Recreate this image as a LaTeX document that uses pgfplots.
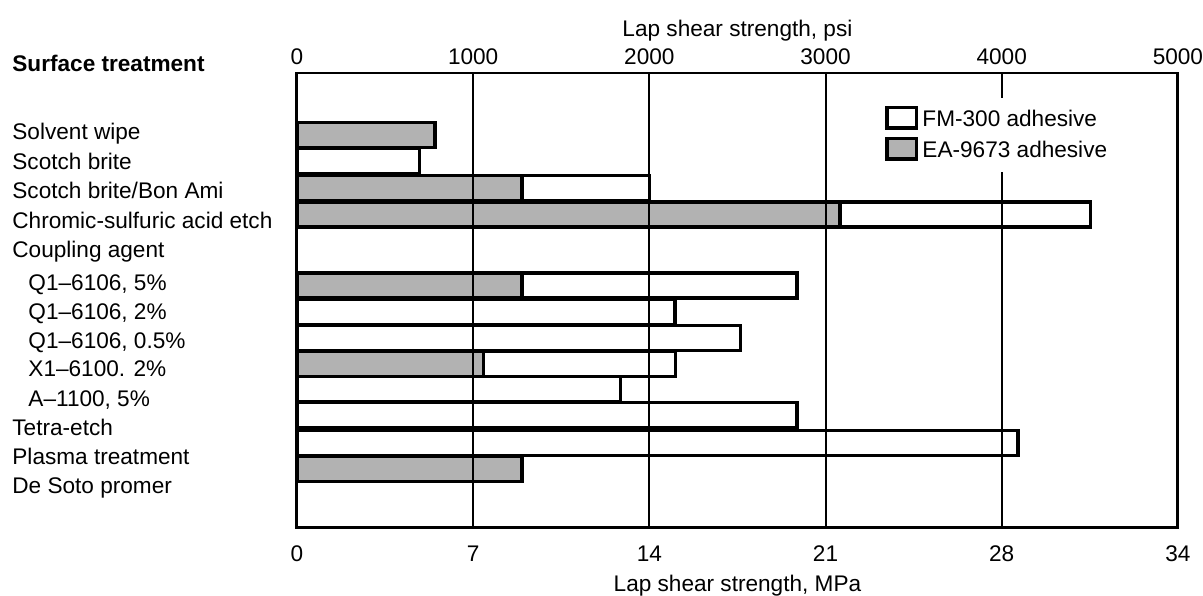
\documentclass[border=0pt]{standalone}
\usepackage{fontspec}
\setmainfont{Liberation Sans}
\usepackage{pgfplots}
\pgfplotsset{compat=1.18}

\begin{document}
\begin{tikzpicture}[font=\fontsize{10}{12}\selectfont]
\begin{axis}[
    name=ax,
    scale only axis,
    width=389.8pt, height=201.3pt,
    xmin=0, xmax=5000,
    ymin=73, ymax=528,
    y dir=reverse,
    axis line style={line width=1.3pt},
    axis on top,
    clip=false,
    major tick length=0pt,
    xtick={0,1000,2000,3000,4000,5000},
    xticklabels={0,7,14,21,28,34},
    xticklabel style={text height=7.2pt, text depth=0pt, yshift=-4pt},
    xlabel={Lap shear strength, MPa},
    xlabel style={yshift=0.6pt},
    xmajorgrids,
    grid style={black, line width=0.85pt},
    ytick={131.5,161,190,220,249,282,311,340,368,398,427,456,485},
    yticklabels={Solvent wipe, Scotch brite, Scotch brite/Bon Ami,
        Chromic-sulfuric acid etch, Coupling agent,
        {\hspace*{7.1pt}Q1–6106, 5\%}, {\hspace*{7.1pt}Q1–6106, 2\%},
        {\hspace*{7.1pt}Q1–6106, 0.5\%}, {\hspace*{7.1pt}X1–6100. 2\%},
        {\hspace*{7.1pt}A–1100, 5\%}, Tetra-etch, Plasma treatment,
        De Soto promer},
    yticklabel style={anchor=west, inner sep=0pt, xshift=-126.1pt,
        text height=7.2pt, text depth=0pt},
    xbar, bar shift=0pt, bar width=25,
    legend image code/.code={\draw[#1] (0pt,-3.7pt) rectangle (13pt,5.3pt);},
    legend cell align=left,
    legend style={at={(0.6595,0.945)}, anchor=north west, draw=none,
        fill=white, inner sep=3pt, row sep=1pt,
        /tikz/every even column/.append style={column sep=10.6pt}},
]
% FM-300 adhesive (psi)
\addplot[fill=white, draw=black, line width=1.5pt]
    coordinates {
    (695,161) (2000,188) (4505,214.5) (2838,285.5) (2146,312)
    (2518,338) (2150,364) (1836,389) (2838,415) (4092,443)
};
\addlegendentry{FM-300 adhesive}
% EA-9673 adhesive (psi)
\addplot[fill=black!30, draw=black, line width=1.5pt]
    coordinates {
    (783,135) (1278,188) (3083,214.5) (1278,285.5) (1060,364) (1278,469)
};
\addlegendentry{EA-9673 adhesive}
\node[anchor=west, inner sep=0pt, text height=7.2pt, text depth=0pt,
    font=\bfseries, xshift=-126.1pt] at (axis cs:0,63.5) {Surface treatment};
\end{axis}
\begin{axis}[
    scale only axis,
    width=389.8pt, height=201.3pt,
    at={(ax.south west)}, anchor=south west,
    xmin=0, xmax=5000,
    ymin=73, ymax=528,
    axis x line*=top,
    hide y axis,
    axis line style={line width=1.3pt},
    major tick length=0pt,
    xtick={0,1000,2000,3000,4000,5000},
    xticklabels={0,1000,2000,3000,4000,5000},
    xticklabel style={text height=7.2pt, text depth=0pt},
    xlabel={Lap shear strength, psi},
    xlabel style={yshift=-3.5pt},
]
\end{axis}
\pgfresetboundingbox
\path[use as bounding box] ([shift={(-131.4pt,-30.1pt)}]ax.south west)
    rectangle ([shift={(11.1pt,32.3pt)}]ax.north east);
\end{tikzpicture}
\end{document}
